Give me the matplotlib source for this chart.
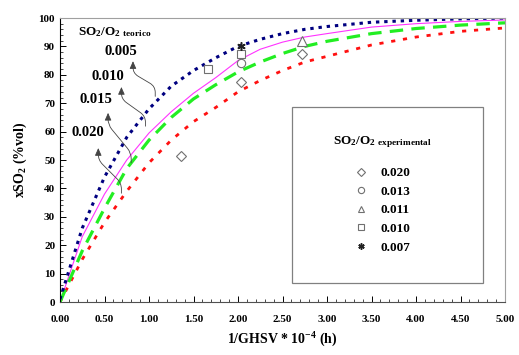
import matplotlib
matplotlib.use("Agg")
import matplotlib.pyplot as plt
from matplotlib.patches import Rectangle
from matplotlib.ticker import MultipleLocator, FormatStrFormatter

plt.rcParams["font.family"] = ["Liberation Serif", "DejaVu Serif"]
plt.rcParams["font.weight"] = "bold"
plt.rcParams["mathtext.fontset"] = "custom"
plt.rcParams["mathtext.rm"] = "Liberation Serif:bold"
plt.rcParams["mathtext.default"] = "rm"

# theoretical curves
x_teo = [0, 0.25, 0.5, 0.75, 1.0, 1.25, 1.5, 1.75, 2.0, 2.25, 2.5, 2.75, 3.0, 3.5, 4.0, 4.5, 5.0]
y_005 = [1, 26, 44, 58, 68, 76, 81.5, 86, 90, 92.5, 94.5, 96, 97, 98.5, 99.2, 99.7, 100]
y_010 = [0, 23, 38, 50, 59.5, 67, 73.5, 79, 85, 89, 91.5, 93.3, 94.5, 96.8, 98, 98.8, 99.3]
y_015 = [0, 18, 33, 47, 57, 65, 71.5, 76.5, 81, 84.5, 87.5, 90, 91.8, 94.5, 96.3, 97.5, 98.3]
y_020 = [0, 15, 28, 39, 49, 57, 63.5, 68.5, 74, 78, 81.5, 84.5, 86.5, 90.5, 93.3, 95.3, 96.5]

# experimental points
x_e020 = [1.36, 2.03, 2.72]
y_e020 = [51.3, 77.4, 87.4]
x_e013 = [2.03]
y_e013 = [84.2]
x_e011 = [2.72]
y_e011 = [91.8]
x_e010 = [1.66, 2.03]
y_e010 = [82.2, 87.4]
x_e007 = [2.03]
y_e007 = [90.3]

fig = plt.figure(figsize=(5.19, 3.55), dpi=100)
ax = fig.add_axes([60 / 519, 53 / 355, 445 / 519, 284 / 355])

ax.plot(x_teo, y_010, color="#ff33ff", lw=0.8)
ax.plot(x_teo, y_020, color="#ff1010", lw=2.0, dashes=(1.5, 2.8))
ax.plot(x_teo, y_015, color="#22ee22", lw=2.3, dashes=(4.2, 2.6))
ax.plot(x_teo, y_005, color="#000080", lw=2.2, dashes=(1.1, 1.6))

gray = "#707070"
h1, = ax.plot(x_e020, y_e020, ls="none", marker="D", ms=5, mfc="white", mec=gray, mew=0.8, label="0.020")
h2, = ax.plot(x_e013, y_e013, ls="none", marker="o", ms=6, mfc="white", mec=gray, mew=0.8, label="0.013")
h3, = ax.plot(x_e011, y_e011, ls="none", marker="^", ms=6.5, mfc="white", mec=gray, mew=0.8, label="0.011")
h4, = ax.plot(x_e010, y_e010, ls="none", marker="s", ms=6, mfc="white", mec=gray, mew=0.8, label="0.010")
h5, = ax.plot(x_e007, y_e007, ls="none", marker=(6, 2, 0), ms=6, mec="#222222", mew=1.1, label="0.007")

# curve labels with arrows
labels = [("0.005", (0.685, 88.2), (0.82, 84.8), (1.07, 72.4)),
          ("0.010", (0.54, 79.4), (0.69, 75.7), (0.96, 61.9)),
          ("0.015", (0.40, 71.3), (0.54, 66.6), (0.80, 49.0)),
          ("0.020", (0.31, 59.6), (0.43, 54.2), (0.69, 38.3))]
for txt, pos, tip, start in labels:
    ax.text(pos[0], pos[1], txt, fontsize=10.5, fontweight="bold", ha="center", va="center")
    ax.annotate("", xy=tip, xytext=start,
                arrowprops=dict(arrowstyle="-|>,head_length=0.45,head_width=0.2",
                                connectionstyle="arc,angleA=90,armA=10,angleB=-90,armB=12,rad=6",
                                color="#444444", lw=0.6, shrinkA=0, shrinkB=0))

ax.text(0.2, 95, "SO$_2$/O$_{2\\ \\mathrm{teorico}}$", fontsize=9.5, va="center")

# legend box
ax.add_patch(Rectangle((0.521, 0.066), 0.43, 0.622, transform=ax.transAxes,
                       fill=True, fc="white", ec="#808080", lw=0.9, zorder=4))
leg = ax.legend(handles=[h1, h2, h3, h4, h5], loc="center", bbox_to_anchor=(0.725, 0.38),
                frameon=False, fontsize=9.5, handlelength=1.0, handletextpad=1.0,
                labelspacing=0.48, markerscale=0.75,
                title="SO$_2$/O$_{2\\ \\mathrm{experimental}}$", title_fontsize=9.5)
leg.set_zorder(5)
leg._legend_box.sep = 12

ax.set_xlim(0, 5)
ax.set_ylim(0, 100)
ax.xaxis.set_major_locator(MultipleLocator(0.5))
ax.xaxis.set_minor_locator(MultipleLocator(0.1))
ax.xaxis.set_major_formatter(FormatStrFormatter("%.2f"))
ax.yaxis.set_major_locator(MultipleLocator(10))
ax.yaxis.set_minor_locator(MultipleLocator(2))
ax.tick_params(which="both", direction="in", labelsize=8, top=False, right=False)
ax.tick_params(which="major", length=4, width=0.7)
ax.tick_params(which="minor", length=2, width=0.5)
ax.tick_params(axis="x", pad=9)
for t in ax.get_xticklabels() + ax.get_yticklabels():
    t.set_fontweight("bold")

ax.spines["top"].set_color("#a0a0a0")
ax.spines["right"].set_color("#a0a0a0")
ax.spines["left"].set_color("#000000")
ax.spines["bottom"].set_color("#505050")

ax.set_xlabel("1/GHSV * 10$^{-4}$ (h)", fontsize=10, fontweight="bold", labelpad=5)
ax.set_ylabel("xSO$_2$ (%vol)", fontsize=10, fontweight="bold", labelpad=7)

fig.savefig("out.png", dpi=100)
